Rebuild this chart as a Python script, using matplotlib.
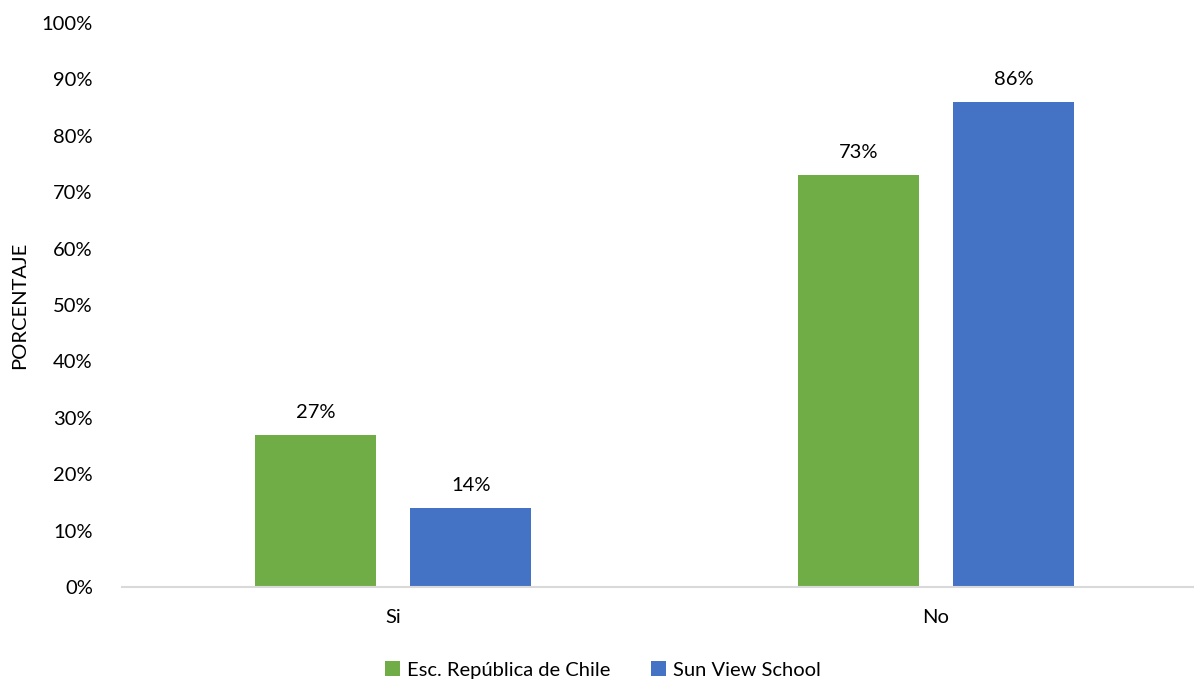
import numpy as np
import matplotlib.pyplot as plt

categorias = ["Si", "No"]
series = ["Esc. República de Chile", "Sun View School"]
chile = [27, 73]
sunview = [14, 86]
colores = ["#70AD47", "#4472C4"]

plt.rcParams['font.family'] = ['Lato', 'DejaVu Sans']
fs = 14.5

fig = plt.figure(figsize=(11.94, 6.83), dpi=100)
# el area del grafico sale un poco del borde derecho, como en el original
ax = fig.add_axes([122/1194, 1 - 587/683, 1085/1194, (587 - 23)/683])

x = np.arange(len(categorias))
ancho = 0.223
sep = 0.143
b1 = ax.bar(x - sep, chile, ancho, color=colores[0], label=series[0])
b2 = ax.bar(x + sep, sunview, ancho, color=colores[1], label=series[1])

for barras in (b1, b2):
    for b in barras:
        ax.annotate(f"{b.get_height():.0f}%", (b.get_x() + b.get_width()/2, b.get_height()),
                    xytext=(0, 10), textcoords="offset points", ha="center", va="bottom",
                    fontsize=fs, color="#000000")

ax.set_xlim(-0.5, 1.5)
ax.set_ylim(0, 100)
ax.set_yticks(np.arange(0, 101, 10))
ax.set_yticklabels([f"{v}%" for v in range(0, 101, 10)])
ax.set_xticks(x)
ax.set_xticklabels(categorias)
ax.tick_params(axis="both", length=0, labelsize=fs, colors="#000000")
ax.tick_params(axis="y", pad=21)
ax.tick_params(axis="x", pad=16)

for s in ("top", "right", "left"):
    ax.spines[s].set_visible(False)
ax.spines["bottom"].set_color("#D9D9D9")
ax.spines["bottom"].set_linewidth(1.5)

ax.set_ylabel("PORCENTAJE", fontsize=fs, labelpad=10)

fig.legend(loc="center", bbox_to_anchor=(0.505, 1 - 670/683), ncol=2, frameon=False,
           fontsize=fs, handlelength=0.75, handleheight=0.75, handletextpad=0.35, columnspacing=2.0)

fig.savefig("out.png", dpi=100)
